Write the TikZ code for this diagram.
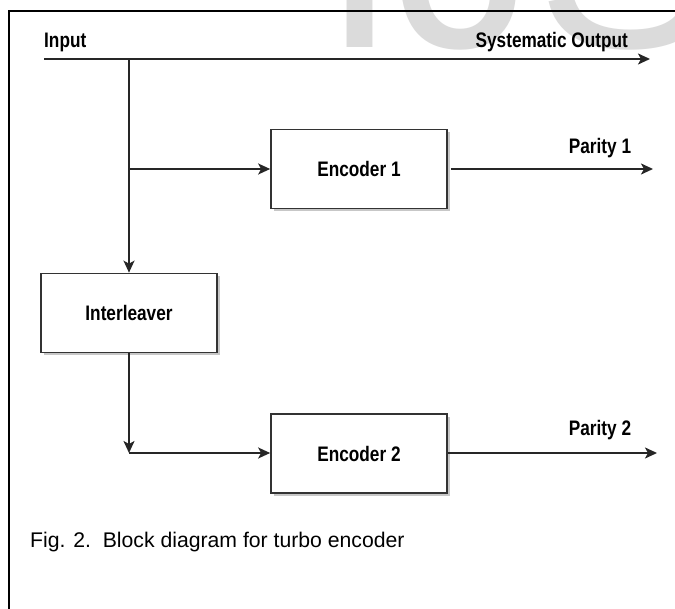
\documentclass[tikz,border=0pt]{standalone}
\usepackage{fontspec}
\setmainfont{Liberation Sans}
\newfontfamily\narrowfam[FakeStretch=0.82]{Liberation Sans}
\newcommand\labfont{\narrowfam\bfseries\fontsize{21}{24}\selectfont}
\newcommand\capfont{\fontsize{21.2}{24}\selectfont}
\newcommand\wmfont{\fontsize{277}{277}\selectfont}
\usetikzlibrary{arrows.meta,shadows}
\begin{document}
\begin{tikzpicture}[x=1pt,y=-1pt,
  blk/.style={draw=black!80, line width=1.7pt, fill=white, minimum width=176pt,
    minimum height=79pt, inner sep=0pt, font=\labfont,
    drop shadow={shadow xshift=3pt, shadow yshift=-3pt, fill=black!22, opacity=1}},
  lbl/.style={inner sep=0pt, font=\labfont, text=black},
  conn/.style={draw=black!85, line width=1.8pt},
  arr/.style={-{Stealth[length=12pt,width=11pt,inset=3pt]}},
  framel/.style={draw=black, line width=1.8pt},
  wm/.style={inner sep=0pt, font=\wmfont, text=black!14, anchor=base west}]
\useasboundingbox (0,0) rectangle (675,609);
\clip (0,0) rectangle (675,609);
\fill[white] (0,0) rectangle (675,609);
\node[wm] (wmark) at (321,48) {IJSER};
\coordinate (fb) at (9,615);
\coordinate (ftl) at (9,11);
\coordinate (fr) at (680,11);
\draw[framel] (fb) -- (ftl) -- (fr);
\node[lbl, anchor=base west] (in) at (44,48) {Input};
\node[lbl, anchor=base east] (so) at (628,48) {Systematic Output};
\coordinate (a0) at (44,59);
\coordinate (a1) at (650,59);
\draw[conn,arr] (a0) -- (a1);
\node[blk] (e1) at (359,169) {Encoder 1};
\node[blk] (il) at (129,313) {Interleaver};
\node[blk] (e2) at (359,453.5) {Encoder 2};
\coordinate (j0) at (129,59);
\coordinate (j1) at (129,169);
\coordinate (j2) at (129,453);
\draw[conn,arr] (j0) -- (il.north);
\draw[conn,arr] (j1) -- (j1 -| e1.west);
\draw[conn,arr] (il.south) -- (j2);
\draw[conn,arr] (j2) -- (j2 -| e2.west);
\coordinate (p1) at (653,169);
\coordinate (p2) at (657,453);
\draw[conn,arr] ([xshift=3pt]e1.east) -- (p1);
\draw[conn,arr] (e2.east |- p2) -- (p2);
\node[lbl, anchor=base] (pl1) at (600,154) {Parity 1};
\node[lbl, anchor=base] (pl2) at (600,436) {Parity 2};
\node[inner sep=0pt, font=\capfont, anchor=base west] (cap) at (30,547) {Fig. 2.~~Block diagram for turbo encoder};
\end{tikzpicture}
\end{document}
